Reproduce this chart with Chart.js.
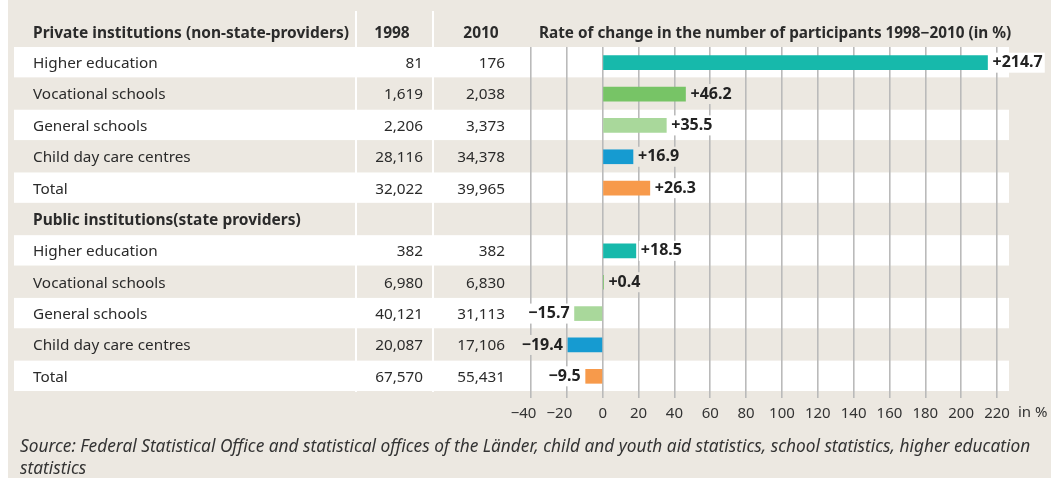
<!DOCTYPE html>
<html>
<head>
<meta charset="utf-8">
<script src="https://cdn.jsdelivr.net/npm/chart.js@4.4.1/dist/chart.umd.min.js"></script>
<style>
  html, body { margin: 0; padding: 0; background: #ffffff; }
  #chart { display: block; }
</style>
</head>
<body>
<canvas id="chart" width="1051" height="480"></canvas>
<script>
// Table rows, top to bottom
const rowLabels = [
  "Higher education",
  "Vocational schools",
  "General schools",
  "Child day care centres",
  "Total",
  "Public institutions(state providers)",
  "Higher education",
  "Vocational schools",
  "General schools",
  "Child day care centres",
  "Total",
];
const participants1998 = [81, 1619, 2206, 28116, 32022, null, 382, 6980, 40121, 20087, 67570];
const participants2010 = [176, 2038, 3373, 34378, 39965, null, 382, 6830, 31113, 17106, 55431];
const changeRates = [214.7, 46.2, 35.5, 16.9, 26.3, null, 18.5, 0.4, -15.7, -19.4, -9.5];

const headerLabel = "Private institutions (non-state-providers)";
const yearLabels = ["1998", "2010"];
const chartTitle = "Rate of change in the number of participants 1998\u22122010 (in %)";
const unitLabel = "in %";
const sourceLines = [
  "Source: Federal Statistical Office and statistical offices of the L\u00e4nder, child and youth aid statistics, school statistics, higher education",
  "statistics",
];

// Colour by kind of institution
const kindColors = {
  higher: "#17b9ab",
  vocational: "#77c466",
  general: "#a9d89b",
  daycare: "#169bd1",
  total: "#f79a4b",
};
const rowKinds = ["higher", "vocational", "general", "daycare", "total", null,
  "higher", "vocational", "general", "daycare", "total"];

const beige = "#ece8e1";
const textColor = "#2b2b2b";
const fontFamily = "'Noto Sans', 'Open Sans', sans-serif";

function fmt(n) {
  return n == null ? "" : n.toLocaleString("en-US");
}
function signed(v) {
  if (v < 0) return "\u2212" + Math.abs(v).toFixed(1);
  return "+" + v.toFixed(1);
}

// Background panel, table stripes and the table text
const tablePlugin = {
  id: "tablePlugin",
  beforeDraw(chart) {
    const ctx = chart.ctx;
    const y = chart.scales.y;
    const rowH = y.getPixelForValue(1) - y.getPixelForValue(0);

    ctx.save();
    ctx.fillStyle = beige;
    ctx.fillRect(8, 0, 1043, 478);

    // stripes
    for (let i = 0; i < rowLabels.length; i++) {
      const cy = y.getPixelForValue(i);
      if (i % 2 === 0) {
        ctx.fillStyle = "#ffffff";
        ctx.fillRect(14, cy - rowH / 2, 995, rowH - 1);
      }
    }

    // white column separators
    const bottom = y.getPixelForValue(10) + rowH / 2;
    ctx.fillStyle = "#ffffff";
    ctx.fillRect(355, 11, 2, bottom - 11);
    ctx.fillRect(432, 11, 2, bottom - 11);

    ctx.fillStyle = textColor;
    ctx.textBaseline = "middle";

    // header row
    const hy = y.getPixelForValue(0) - rowH + 2;
    ctx.font = "bold 15.5px " + fontFamily;
    ctx.textAlign = "left";
    ctx.fillText(headerLabel, 33, hy);
    ctx.textAlign = "center";
    ctx.fillText(yearLabels[0], 392, hy);
    ctx.fillText(yearLabels[1], 481, hy);
    ctx.textAlign = "left";
    ctx.font = "bold 15.3px " + fontFamily;
    ctx.fillText(chartTitle, 539, hy);

    // body rows
    for (let i = 0; i < rowLabels.length; i++) {
      const cy = y.getPixelForValue(i) + 1;
      const isGroup = participants1998[i] == null;
      ctx.font = (isGroup ? "bold 15.5px " : "15.3px ") + fontFamily;
      ctx.textAlign = "left";
      ctx.fillText(rowLabels[i], 33, cy);
      ctx.font = "15.3px " + fontFamily;
      ctx.textAlign = "right";
      ctx.fillText(fmt(participants1998[i]), 423, cy);
      ctx.fillText(fmt(participants2010[i]), 505, cy);
    }

    // source note
    ctx.font = "italic 17.3px " + fontFamily;
    ctx.textAlign = "left";
    ctx.fillStyle = "#333333";
    ctx.fillText(sourceLines[0], 20, 447);
    ctx.fillText(sourceLines[1], 20, 469);
    ctx.restore();
  },
  afterDraw(chart) {
    const ctx = chart.ctx;
    const x = chart.scales.x;
    ctx.save();
    ctx.font = "15px " + fontFamily;
    ctx.fillStyle = "#333333";
    ctx.textAlign = "left";
    ctx.textBaseline = "middle";
    ctx.fillText(unitLabel, x.getPixelForValue(220) + 21, 413);
    ctx.restore();
  },
};

// Value labels next to the bars
const valueLabels = {
  id: "valueLabels",
  afterDatasetsDraw(chart) {
    const ctx = chart.ctx;
    const meta = chart.getDatasetMeta(0);
    ctx.save();
    ctx.font = "bold 16px " + fontFamily;
    ctx.textBaseline = "middle";
    meta.data.forEach((bar, i) => {
      const v = changeRates[i];
      if (v == null) return;
      const txt = signed(v);
      const w = ctx.measureText(txt).width;
      const gap = 5;
      const left = v >= 0 ? bar.x + gap : bar.x - gap - w;
      ctx.fillStyle = i % 2 === 0 ? "#ffffff" : beige;
      ctx.fillRect(left - 2, bar.y - 10, w + 4, 20);
      ctx.fillStyle = "#222222";
      ctx.textAlign = "left";
      ctx.fillText(txt, left, bar.y);
    });
    ctx.restore();
  },
};

new Chart(document.getElementById("chart"), {
  type: "bar",
  data: {
    labels: rowLabels,
    datasets: [
      {
        data: changeRates,
        backgroundColor: rowKinds.map((k) => (k ? kindColors[k] : "transparent")),
        borderWidth: 0,
        barThickness: 14,
      },
    ],
  },
  options: {
    responsive: false,
    animation: false,
    indexAxis: "y",
    layout: { padding: { left: 531, right: 54, top: 47, bottom: 50 } },
    plugins: { legend: { display: false }, tooltip: { enabled: false } },
    scales: {
      x: {
        min: -40,
        max: 220,
        ticks: {
          stepSize: 20,
          color: "#333333",
          font: { family: fontFamily, size: 15 },
          padding: 7,
          maxRotation: 0,
          autoSkip: false,
          // negative labels: keep the digits under the gridline, minus hangs left
          callback: (v) => (v < 0 ? "\u2212" + Math.abs(v) + "\u2003" : String(v)),
        },
        grid: { color: "#bababa", lineWidth: 1.6, tickLength: 6 },
        border: { display: false },
      },
      y: { display: false },
    },
  },
  plugins: [tablePlugin, valueLabels],
});
</script>
</body>
</html>
